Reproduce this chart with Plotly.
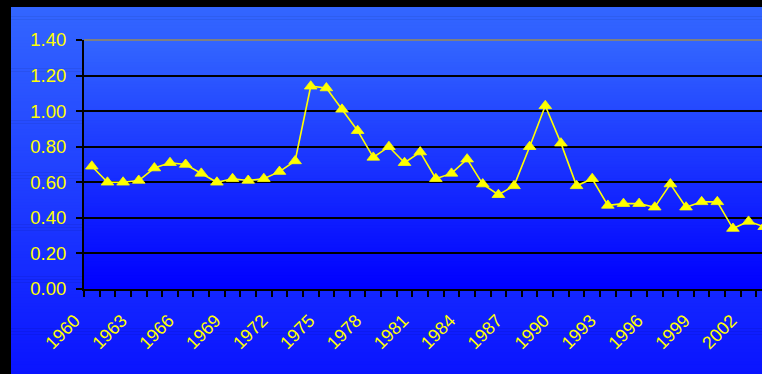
import plotly.graph_objects as go

# Annual series, 1960-2003
years = list(range(1960, 2004))
values = [0.69, 0.60, 0.60, 0.61, 0.68, 0.71, 0.70, 0.65, 0.60, 0.62,
          0.61, 0.62, 0.66, 0.72, 1.14, 1.13, 1.01, 0.89, 0.74, 0.80,
          0.71, 0.77, 0.62, 0.65, 0.73, 0.59, 0.53, 0.58, 0.80, 1.03,
          0.82, 0.58, 0.62, 0.47, 0.48, 0.48, 0.46, 0.59, 0.46, 0.49,
          0.49, 0.34, 0.38, 0.35]
label_years = years[::3]
y_ticks = [0.0, 0.2, 0.4, 0.6, 0.8, 1.0, 1.2, 1.4]

W, H = 762, 374
L, R, T, B = 84, 0, 40, 85
PW, PH = W - L - R, H - T - B

YELLOW = "#FFFF00"
FONT = "Liberation Sans, Arial, sans-serif"


def px_to_paper_x(px):
    return (px - L) / PW


def py_to_paper_y(py):
    return (H - B - py) / PH


def lerp(c0, c1, f):
    return tuple(round(a + (b - a) * f) for a, b in zip(c0, c1))


shapes = []

# chart-area vertical gradient
top_c, bot_c = (51, 102, 255), (10, 20, 255)
y0_px, y1_px = 7, H
n = 120
for i in range(n):
    a = y0_px + (y1_px - y0_px) * i / n
    b = y0_px + (y1_px - y0_px) * (i + 1) / n
    c = lerp(top_c, bot_c, (i + 0.5) / n)
    shapes.append(dict(type="rect", xref="paper", yref="paper", layer="below",
                       x0=px_to_paper_x(11), x1=px_to_paper_x(W + 2),
                       y0=py_to_paper_y(b + 0.6), y1=py_to_paper_y(a),
                       fillcolor="rgb(%d,%d,%d)" % c, line=dict(width=0)))

# plot-area vertical gradient
ptop_c, pbot_c = (51, 102, 255), (0, 0, 255)
m = 90
for i in range(m):
    a = i / m
    b = (i + 1) / m
    c = lerp(ptop_c, pbot_c, (i + 0.5) / m)
    shapes.append(dict(type="rect", xref="paper", yref="paper", layer="below",
                       x0=0, x1=1.01, y0=max(0, 1 - b - 0.004), y1=1 - a,
                       fillcolor="rgb(%d,%d,%d)" % c, line=dict(width=0)))

# plot-area top border
shapes.append(dict(type="line", xref="paper", yref="paper", x0=0, x1=1.01,
                   y0=1, y1=1, line=dict(color="#808080", width=2)))

fig = go.Figure()
fig.add_trace(go.Scatter(
    x=years, y=values, mode="lines+markers",
    line=dict(color=YELLOW, width=1.6),
    marker=dict(symbol="triangle-up", size=11, color=YELLOW,
                line=dict(width=0.8, color=YELLOW)),
    showlegend=False, hoverinfo="x+y"))

fig.update_layout(
    width=W, height=H,
    margin=dict(l=L, r=R, t=T, b=B, pad=0),
    paper_bgcolor="#000000",
    plot_bgcolor="rgba(0,0,0,0)",
    shapes=shapes,
    font=dict(family=FONT, color=YELLOW),
)

fig.update_xaxes(
    range=[1959.5, 1959.5 + PW / 15.637],
    tickmode="array", tickvals=label_years,
    ticktext=[str(y) for y in label_years],
    ticks="", tickangle=-45, ticklabelshift=-17, ticklabelstandoff=12,
    tickfont=dict(size=18, color=YELLOW, family=FONT),
    minor=dict(tick0=1959.5, dtick=1, ticks="outside", ticklen=6,
               tickwidth=1.5, tickcolor="#000000", showgrid=False),
    showgrid=False, zeroline=False,
    showline=True, linecolor="#000000", linewidth=2,
)

fig.update_yaxes(
    range=[0, 1.4], tickmode="array", tickvals=y_ticks,
    ticktext=["%.2f" % v for v in y_ticks],
    ticks="outside", ticklen=6, tickwidth=1.5, tickcolor="#000000",
    ticklabelstandoff=6,
    tickfont=dict(size=18.5, color=YELLOW, family=FONT),
    showgrid=True, gridcolor="#000000", gridwidth=1.5,
    zeroline=False,
    showline=True, linecolor="#000000", linewidth=2,
)

fig.write_html("out.html")
